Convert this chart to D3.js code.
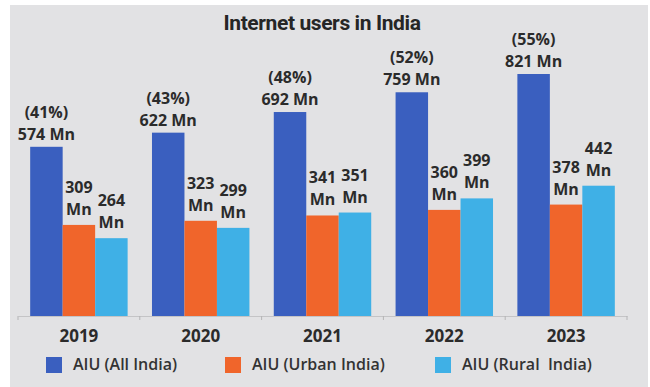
<!DOCTYPE html>
<html>
<head>
<meta charset="utf-8">
<script src="https://cdn.jsdelivr.net/npm/d3@7"></script>
<style>
  html, body { margin: 0; padding: 0; background: #ffffff; }
  svg { display: block; }
  .lbl { font-family: "Open Sans", "DejaVu Sans", sans-serif; font-weight: 700; fill: #2b2b2b; }
</style>
</head>
<body>
<svg id="chart" width="650" height="387"></svg>
<script>
// Internet users in India (millions), by year
const years = ["2019", "2020", "2021", "2022", "2023"];
const allIndia = [574, 622, 692, 759, 821];
const urbanIndia = [309, 323, 341, 360, 378];
const ruralIndia = [264, 299, 351, 399, 442];
const penetration = [41, 43, 48, 52, 55];
const seriesNames = ["AIU (All India)", "AIU (Urban India)", "AIU (Rural  India)"];
const seriesColors = ["#3a5fbf", "#f0652b", "#3fb0e6"];

const seriesKeys = ["all", "urban", "rural"];
const rows = years.map((y, i) => ({
  year: y,
  all: allIndia[i],
  urban: urbanIndia[i],
  rural: ruralIndia[i],
  pct: penetration[i]
}));

const W = 650, H = 387;
const svg = d3.select("#chart");

// grey card
svg.append("rect")
  .attr("x", 10).attr("y", 5)
  .attr("width", W - 12).attr("height", H - 5)
  .attr("fill", "#e2e2e4");

// title
svg.append("text")
  .attr("x", 322).attr("y", 30)
  .attr("text-anchor", "middle")
  .style("font-family", "Roboto, 'Liberation Sans Narrow', sans-serif")
  .style("font-weight", 700)
  .style("font-size", "21px")
  .style("letter-spacing", "-0.4px")
  .attr("fill", "#262626")
  .text("Internet users in India");

// scales
const x0 = d3.scaleBand().domain(years).range([18, 627]).paddingInner(0.2).paddingOuter(0.1);
const x1 = d3.scaleBand().domain(seriesKeys).range([0, x0.bandwidth()]).padding(0);
const y = d3.scaleLinear().domain([0, 821]).range([316, 74]);
const color = d3.scaleOrdinal().domain(seriesKeys).range(seriesColors);

// bars
const groups = svg.append("g").selectAll("g")
  .data(rows).join("g")
  .attr("transform", d => `translate(${x0(d.year)},0)`);

groups.selectAll("rect")
  .data(d => seriesKeys.map(k => ({ key: k, value: d[k] })))
  .join("rect")
  .attr("x", d => x1(d.key))
  .attr("width", x1.bandwidth())
  .attr("y", d => y(d.value))
  .attr("height", d => y(0) - y(d.value))
  .attr("fill", d => color(d.key));

// labels: All India gets penetration over value; others get value over "Mn"
const labelSize = "16px";
groups.each(function (d) {
  const g = d3.select(this);
  const cxAll = x1("all") + x1.bandwidth() / 2;
  g.append("text").attr("class", "lbl")
    .attr("x", cxAll).attr("y", y(d.all) - 7)
    .attr("text-anchor", "middle").style("font-size", labelSize)
    .text(`${d.all} Mn`);
  g.append("text").attr("class", "lbl")
    .attr("x", cxAll).attr("y", y(d.all) - 29)
    .attr("text-anchor", "middle").style("font-size", labelSize)
    .text(`(${d.pct}%)`);
  ["urban", "rural"].forEach(k => {
    const cx = x1(k) + x1.bandwidth() / 2;
    g.append("text").attr("class", "lbl")
      .attr("x", cx).attr("y", y(d[k]) - 10)
      .attr("text-anchor", "middle").style("font-size", labelSize)
      .text("Mn");
    g.append("text").attr("class", "lbl")
      .attr("x", cx).attr("y", y(d[k]) - 32)
      .attr("text-anchor", "middle").style("font-size", labelSize)
      .text(d[k]);
  });
});

// x axis: baseline, boundary ticks, year labels
const axisG = svg.append("g").attr("transform", `translate(0,${y(0)})`);
axisG.call(d3.axisBottom(x0).tickSize(0).tickPadding(10));
axisG.select(".domain").attr("stroke", "#c4c4c6").attr("stroke-width", 1.2);
axisG.selectAll(".tick text")
  .attr("class", "lbl")
  .style("font-size", "17px")
  .attr("dy", "0.95em");

const step = x0.step();
const bounds = years.map(yr => x0(yr) - step * x0.paddingInner() / 2)
  .concat([x0(years[years.length - 1]) + x0.bandwidth() + step * x0.paddingInner() / 2]);
axisG.selectAll("line.bound")
  .data(bounds).join("line")
  .attr("class", "bound")
  .attr("x1", d => d).attr("x2", d => d)
  .attr("y1", 0).attr("y2", 4)
  .attr("stroke", "#b4b4b6");

// legend
const legendX = [46, 225, 435];
const legend = svg.append("g").selectAll("g")
  .data(seriesNames).join("g")
  .attr("transform", (d, i) => `translate(${legendX[i]},357)`);
legend.append("rect")
  .attr("width", 16).attr("height", 16)
  .attr("fill", (d, i) => seriesColors[i]);
legend.append("text")
  .attr("x", 27).attr("y", 13)
  .style("font-family", "'Open Sans', 'DejaVu Sans', sans-serif")
  .style("font-weight", 600)
  .style("font-size", "16px")
  .style("white-space", "pre")
  .attr("fill", "#333")
  .text(d => d);
</script>
</body>
</html>
